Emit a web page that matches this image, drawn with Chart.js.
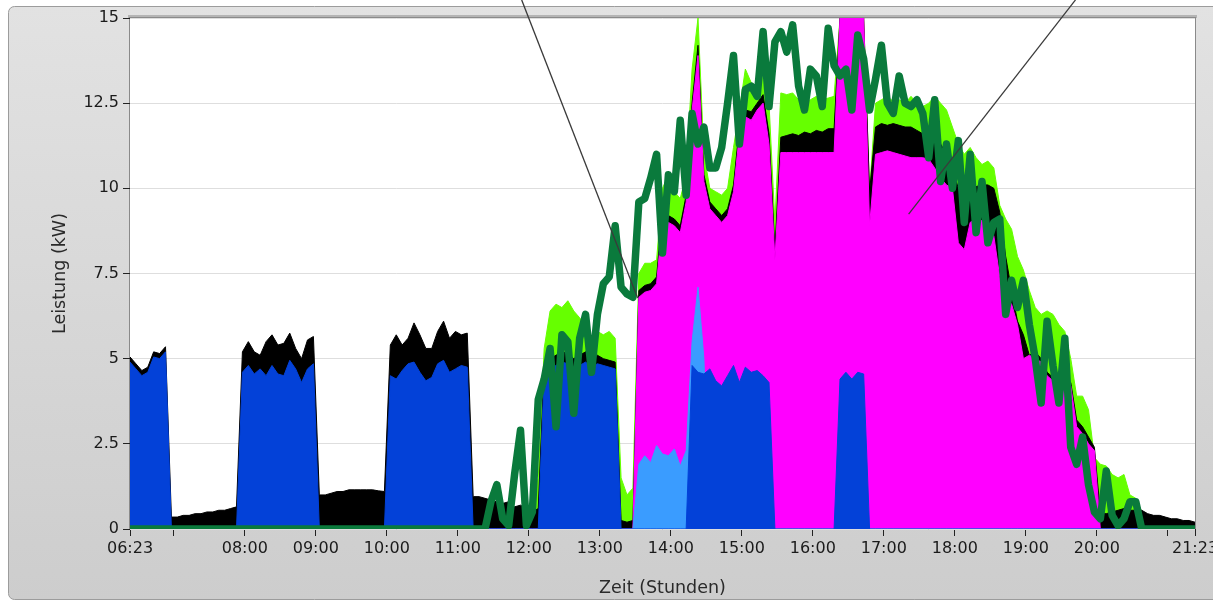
<!DOCTYPE html>
<html>
<head>
<meta charset="utf-8">
<title>Leistung</title>
<script src="https://cdn.jsdelivr.net/npm/chart.js@4.4.1/dist/chart.umd.min.js"></script>
<style>
  html, body { margin: 0; padding: 0; background: #fff; }
  #wrap { width: 1213px; height: 602px; }
</style>
</head>
<body>
<div id="wrap"><canvas id="chart" width="1213" height="602"></canvas></div>
<script>
// Zeitraster: alle 5 Minuten ab 06:23 (Minuten seit Mitternacht)
const times = [];
for (let t = 383; t <= 1283; t += 5) times.push(t);

// x-Achse: Tick-Positionen (Minuten) und Beschriftungen
const xTickMinutes = [383, 420, 480, 540, 600, 660, 720, 780, 840, 900, 960, 1020, 1080, 1140, 1200, 1260, 1283];
const xTickLabels = ["06:23", "", "08:00", "09:00", "10:00", "11:00", "12:00", "13:00", "14:00",
                     "15:00", "16:00", "17:00", "18:00", "19:00", "20:00", "", "21:23"];
const yTickValues = [0, 2.5, 5, 7.5, 10, 12.5, 15];

// Werte in kW
const blueKW = [
  4.9, 4.7, 4.5, 4.6, 5.05, 5.0, 5.2, 0, 0, 0,
  0, 0, 0, 0, 0, 0, 0, 0, 0, 4.6,
  4.8, 4.55, 4.7, 4.5, 4.8, 4.55, 4.5, 4.95, 4.7, 4.3,
  4.7, 4.85, 0, 0, 0, 0, 0, 0, 0, 0,
  0, 0, 0, 0, 4.5, 4.4, 4.65, 4.85, 4.9, 4.6,
  4.35, 4.45, 4.85, 4.95, 4.6, 4.7, 4.8, 4.75, 0, 0,
  0, 0, 0, 0, 0, 0, 0, 0, 0, 0,
  4.5, 4.7, 4.8, 4.9, 4.85, 4.7, 4.8, 4.9, 4.75, 4.85,
  4.8, 4.75, 4.7, 0, 0, 0, 0, 0, 0, 0,
  0, 0, 0, 0, 0, 4.8, 4.6, 4.55, 4.7, 4.35,
  4.2, 4.5, 4.8, 4.3, 4.75, 4.6, 4.65, 4.5, 4.3, 0,
  0, 0, 0, 0, 0, 0, 0, 0, 0, 0,
  4.4, 4.6, 4.4, 4.6, 4.55, 0, 0, 0, 0, 0,
  0, 0, 0, 0, 0, 0, 0, 0, 0, 0,
  0, 0, 0, 0, 0, 0, 0, 0, 0, 0,
  0, 0, 0, 0, 0, 0, 0, 0, 0, 0,
  0, 0, 0, 0, 0, 0, 0, 0, 0, 0,
  0, 0, 0, 0, 0, 0, 0, 0, 0, 0,
  0
];

const lightBlueKW = [
  0, 0, 0, 0, 0, 0, 0, 0, 0, 0,
  0, 0, 0, 0, 0, 0, 0, 0, 0, 0,
  0, 0, 0, 0, 0, 0, 0, 0, 0, 0,
  0, 0, 0, 0, 0, 0, 0, 0, 0, 0,
  0, 0, 0, 0, 0, 0, 0, 0, 0, 0,
  0, 0, 0, 0, 0, 0, 0, 0, 0, 0,
  0, 0, 0, 0, 0, 0, 0, 0, 0, 0,
  0, 0, 0, 0, 0, 0, 0, 0, 0, 0,
  0, 0, 0, 0, 0, 0, 1.9, 2.15, 1.95, 2.45,
  2.2, 2.15, 2.35, 1.85, 2.3, 5.5, 7.1, 5.0, 0, 0,
  0, 0, 0, 0, 0, 0, 0, 0, 0, 0,
  0, 0, 0, 0, 0, 0, 0, 0, 0, 0,
  0, 0, 0, 0, 0, 0, 0, 0, 0, 0,
  0, 0, 0, 0, 0, 0, 0, 0, 0, 0,
  0, 0, 0, 0, 0, 0, 0, 0, 0, 0,
  0, 0, 0, 0, 0, 0, 0, 0, 0, 0,
  0, 0, 0, 0, 0, 0, 0, 0, 0, 0,
  0, 0, 0, 0, 0, 0, 0, 0, 0, 0,
  0
];

const magentaKW = [
  0, 0, 0, 0, 0, 0, 0, 0, 0, 0,
  0, 0, 0, 0, 0, 0, 0, 0, 0, 0,
  0, 0, 0, 0, 0, 0, 0, 0, 0, 0,
  0, 0, 0, 0, 0, 0, 0, 0, 0, 0,
  0, 0, 0, 0, 0, 0, 0, 0, 0, 0,
  0, 0, 0, 0, 0, 0, 0, 0, 0, 0,
  0, 0, 0, 0, 0, 0, 0, 0, 0, 0,
  0, 0, 0, 0, 0, 0, 0, 0, 0, 0,
  0, 0, 0, 0, 0, 0, 6.8, 6.95, 7.0, 7.2,
  9.1, 9.0, 8.9, 8.7, 9.6, 12.3, 13.9, 10.2, 9.4, 9.2,
  9.0, 9.2, 9.9, 11.6, 12.1, 12.0, 12.3, 12.5, 11.3, 7.9,
  11.05, 11.05, 11.05, 11.05, 11.05, 11.05, 11.05, 11.05, 11.05, 11.05,
  15, 15, 15, 15, 15, 8.9, 11.0, 11.05, 11.1, 11.05,
  11.0, 10.95, 10.9, 10.9, 10.9, 10.85, 10.6, 10.3, 10.1, 10.0,
  8.4, 8.2, 9.0, 9.1, 9.05, 9.0, 8.6, 7.4, 6.8, 6.6,
  6.0, 5.0, 5.1, 5.0, 4.9, 4.5, 4.35, 4.3, 4.3, 4.2,
  3.0, 2.8, 2.5, 2.3, 0, 0, 0, 0, 0, 0,
  0, 0, 0, 0, 0, 0, 0, 0, 0, 0,
  0
];

const blackKW = [
  5.05, 4.85, 4.65, 4.75, 5.2, 5.15, 5.35, 0.35, 0.35, 0.4,
  0.4, 0.45, 0.45, 0.5, 0.5, 0.55, 0.55, 0.6, 0.65, 5.2,
  5.5, 5.2, 5.1, 5.5, 5.7, 5.4, 5.45, 5.75, 5.3, 5.0,
  5.55, 5.65, 1.0, 1.0, 1.05, 1.1, 1.1, 1.15, 1.15, 1.15,
  1.15, 1.15, 1.12, 1.1, 5.4, 5.7, 5.4, 5.6, 6.05, 5.7,
  5.3, 5.3, 5.8, 6.1, 5.6, 5.8, 5.7, 5.75, 0.95, 0.95,
  0.9, 0.85, 0.8, 0.75, 0.8, 0.65, 0.7, 0.6, 0.5, 0.6,
  4.8, 5.0, 5.1, 5.2, 5.15, 5.0, 5.1, 5.2, 5.05, 5.1,
  5.0, 4.95, 4.9, 0.25, 0.2, 0.25, 7.0, 7.15, 7.2, 7.4,
  9.35, 9.2, 9.1, 8.9, 9.8, 12.5, 14.2, 10.4, 9.6, 9.4,
  9.2, 9.4, 10.1, 11.8, 12.3, 12.25, 12.5, 12.75, 11.6, 8.2,
  11.5, 11.55, 11.6, 11.55, 11.65, 11.6, 11.7, 11.65, 11.75, 11.75,
  15, 15, 15, 15, 15, 9.9, 11.8, 11.9, 11.85, 11.9,
  11.85, 11.8, 11.8, 11.7, 11.6, 11.5, 11.35, 11.3, 11.0, 10.6,
  10.0, 9.6, 10.0, 10.05, 10.1, 10.1, 10.0, 9.3, 8.0, 7.0,
  6.1, 5.7, 5.1, 5.2, 5.0, 4.6, 4.45, 4.4, 4.4, 4.3,
  3.2, 3.0, 2.7, 2.4, 0.45, 0.45, 0.5, 0.55, 0.6, 0.55,
  0.55, 0.55, 0.45, 0.4, 0.4, 0.35, 0.3, 0.3, 0.25, 0.25,
  0.2
];

const limeKW = [
  0, 0, 0, 0, 0, 0, 0, 0, 0, 0,
  0, 0, 0, 0, 0, 0, 0, 0, 0, 0,
  0, 0, 0, 0, 0, 0, 0, 0, 0, 0,
  0, 0, 0, 0, 0, 0, 0, 0, 0, 0,
  0, 0, 0, 0, 0, 0, 0, 0, 0, 0,
  0, 0, 0, 0, 0, 0, 0, 0, 0, 0,
  0, 0, 0, 0, 0, 0, 0, 0.4, 0.8, 1.5,
  5.3, 6.4, 6.6, 6.5, 6.7, 6.4, 6.2, 5.9, 5.6, 5.8,
  5.7, 5.8, 5.6, 1.5, 1.0, 1.2, 7.5, 7.8, 7.8, 7.9,
  10.0, 10.4, 9.9, 9.7, 10.4, 13.5, 15.0, 11.0, 10.0, 9.9,
  9.8, 10.0, 11.2, 12.3, 13.5, 13.1, 13.0, 13.3, 12.5, 9.0,
  12.8, 12.75, 12.8, 12.6, 12.55, 12.6, 12.7, 12.6, 12.65, 12.7,
  15, 15, 15, 15, 15, 9.9, 12.5, 12.6, 12.7, 12.55,
  12.6, 12.5, 12.7, 12.5, 12.4, 12.5, 12.7, 12.5, 12.3, 11.8,
  11.3, 11.0, 11.2, 10.9, 10.7, 10.8, 10.6, 9.5, 9.1, 8.8,
  8.0, 7.6, 7.0, 6.5, 6.3, 6.4, 6.3, 6.0, 5.8, 5.0,
  3.9, 3.9, 3.5, 2.1, 1.9, 1.85, 1.6, 1.5, 1.6, 1.0,
  0.9, 0.5, 0, 0, 0, 0, 0, 0, 0, 0,
  0
];

const greenKW = [
  0, 0, 0, 0, 0, 0, 0, 0, 0, 0,
  0, 0, 0, 0, 0, 0, 0, 0, 0, 0,
  0, 0, 0, 0, 0, 0, 0, 0, 0, 0,
  0, 0, 0, 0, 0, 0, 0, 0, 0, 0,
  0, 0, 0, 0, 0, 0, 0, 0, 0, 0,
  0, 0, 0, 0, 0, 0, 0, 0, 0, 0,
  0, 0.8, 1.3, 0.3, 0.1, 1.6, 2.9, 0.1, 0.5, 3.8,
  4.4, 5.3, 3.0, 5.7, 5.5, 3.4, 5.6, 6.3, 4.6, 6.3,
  7.2, 7.4, 8.9, 7.1, 6.9, 6.8, 9.6, 9.7, 10.3, 11.0,
  8.1, 10.4, 9.9, 12.0, 9.8, 12.2, 11.3, 11.8, 10.6, 10.6,
  11.2, 12.5, 13.9, 11.3, 12.9, 13.0, 12.7, 14.6, 12.4, 14.3,
  14.6, 14.0, 14.8, 13.0, 12.3, 13.5, 13.3, 12.4, 14.7, 13.6,
  13.3, 13.5, 12.3, 14.5, 13.8, 12.3, 13.2, 14.2, 12.5, 12.2,
  13.3, 12.5, 12.4, 12.6, 12.2, 10.9, 12.6, 10.2, 11.3, 10.0,
  11.4, 9.0, 11.0, 8.7, 10.2, 8.4, 9.0, 9.1, 6.3, 7.3,
  6.5, 7.3, 6.0, 5.0, 3.7, 6.1, 4.8, 3.7, 5.6, 2.4,
  1.9, 2.7, 1.3, 0.5, 0.3, 1.7, 0.4, 0.1, 0.3, 0.8,
  0.8, 0, 0, 0, 0, 0, 0, 0, 0, 0,
  0
];

// Hinweislinien: [Minute, kW] oben -> Spitze
const calloutStart = [[714, 15.53], [1182, 15.53]];
const calloutEnd = [[812, 6.78], [1041, 9.24]];

const pts = (arr) => arr.map((v, i) => ({ x: times[i], y: v }));

function area(label, values, color, order) {
  return {
    label: label,
    data: pts(values),
    borderColor: color,
    backgroundColor: color,
    borderWidth: 1,
    fill: "origin",
    pointRadius: 0,
    tension: 0,
    clip: 0,
    order: order,
  };
}

const tickFont = { family: "DejaVu Sans", size: 16 };
const titleFont = { family: "DejaVu Sans", size: 17.5 };

// Hintergrund im LabVIEW-Stil
const panelPlugin = {
  id: "panel",
  beforeDraw(chart) {
    const { ctx, chartArea: a } = chart;
    ctx.save();
    ctx.fillStyle = "#ffffff";
    ctx.fillRect(0, 0, chart.width, chart.height);
    const g = ctx.createLinearGradient(0, 6, 0, 600);
    g.addColorStop(0, "#e2e2e2");
    g.addColorStop(1, "#cdcdcd");
    ctx.beginPath();
    ctx.roundRect(8.5, 6.5, chart.width + 20, 593, 6);
    ctx.fillStyle = g;
    ctx.fill();
    ctx.strokeStyle = "#9c9c9c";
    ctx.lineWidth = 1;
    ctx.stroke();
    // Rahmen oben um den Plotbereich
    ctx.fillStyle = "#b4b4b4";
    ctx.fillRect(a.left - 2, a.top - 3, a.right - a.left + 4, 3);
    ctx.fillStyle = "#ffffff";
    ctx.fillRect(a.left, a.top, a.right - a.left, a.bottom - a.top);
    ctx.strokeStyle = "#8a8a8a";
    ctx.strokeRect(a.left - 0.5, a.top - 0.5, a.right - a.left + 1, a.bottom - a.top + 1);
    ctx.restore();
  },
};

// Hinweislinien zeichnen
const calloutPlugin = {
  id: "callouts",
  afterDraw(chart) {
    const { ctx } = chart;
    const xs = chart.scales.x;
    const ys = chart.scales.y;
    ctx.save();
    ctx.strokeStyle = "#3a3a3a";
    ctx.lineWidth = 1.3;
    calloutStart.forEach((s, i) => {
      const e = calloutEnd[i];
      ctx.beginPath();
      ctx.moveTo(xs.getPixelForValue(s[0]), ys.getPixelForValue(s[1]));
      ctx.lineTo(xs.getPixelForValue(e[0]), ys.getPixelForValue(e[1]));
      ctx.stroke();
    });
    ctx.restore();
  },
};

new Chart(document.getElementById("chart").getContext("2d"), {
  type: "line",
  data: {
    datasets: [
      {
        label: "Netz",
        data: pts(greenKW),
        borderColor: "#0a7a3c",
        borderWidth: 7.5,
        fill: false,
        pointRadius: 0,
        tension: 0,
        borderJoinStyle: "round",
        borderCapStyle: "round",
        clip: 0,
        order: 0,
      },
      area("Verbraucher 1", blueKW, "#0341d8", 1),
      area("Verbraucher 2", lightBlueKW, "#3a9cff", 2),
      area("Verbraucher 3", magentaKW, "#ff00ff", 3),
      area("Verbrauch", blackKW, "#000000", 4),
      area("Erzeugung", limeKW, "#66ff00", 5),
    ],
  },
  options: {
    responsive: false,
    animation: false,
    layout: { padding: { left: 0, top: 18, right: 18, bottom: 0 } },
    plugins: {
      legend: { display: false },
      tooltip: { enabled: false },
    },
    scales: {
      x: {
        type: "linear",
        min: 383,
        max: 1283,
        afterBuildTicks(s) {
          s.ticks = xTickMinutes.map((v) => ({ value: v }));
        },
        afterFit(s) {
          s.height = 73;
          s.paddingLeft = 0;
          s.paddingRight = 0;
        },
        border: { display: false },
        grid: { drawOnChartArea: false, tickLength: 7, tickColor: "#222", tickWidth: 1 },
        ticks: {
          autoSkip: false,
          maxRotation: 0,
          minRotation: 0,
          padding: 3,
          color: "#1a1a1a",
          font: tickFont,
          callback: (v, i) => xTickLabels[i],
        },
        title: {
          display: true,
          text: "Zeit (Stunden)",
          color: "#2a2a2a",
          font: titleFont,
          padding: { top: 0, bottom: 3 },
        },
      },
      y: {
        min: 0,
        max: 15,
        afterBuildTicks(s) {
          s.ticks = yTickValues.map((v) => ({ value: v }));
        },
        afterFit(s) {
          s.width = 130;
          s.paddingTop = 0;
          s.paddingBottom = 0;
        },
        border: { display: false },
        grid: { color: "#dedede", lineWidth: 1, tickLength: 7, tickColor: "#222", tickWidth: 1 },
        ticks: {
          padding: 4,
          color: "#1a1a1a",
          font: tickFont,
          callback: (v) => String(v),
        },
        title: {
          display: true,
          text: "Leistung (kW)",
          color: "#2a2a2a",
          font: titleFont,
          padding: { top: 50, bottom: 0 },
        },
      },
    },
  },
  plugins: [panelPlugin, calloutPlugin],
});
</script>
</body>
</html>
